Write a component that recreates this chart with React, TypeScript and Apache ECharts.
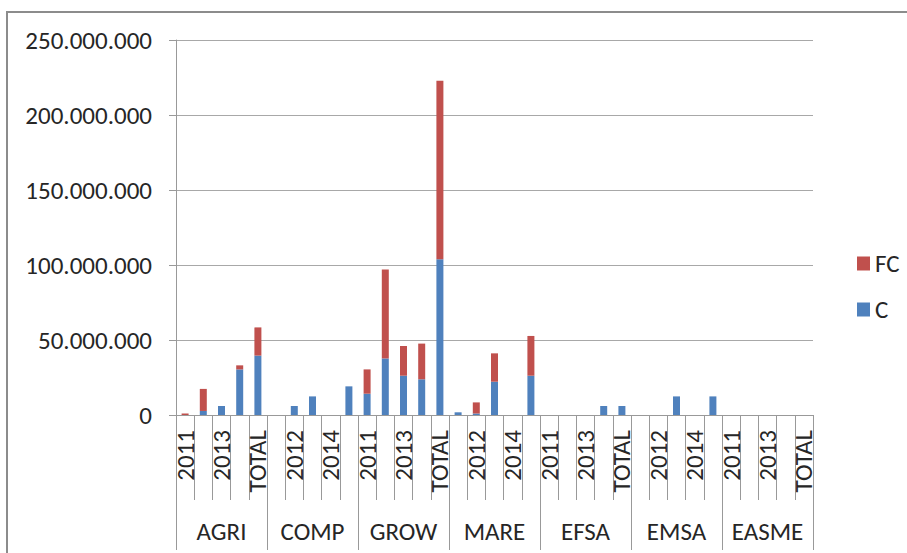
import React, { useEffect, useRef } from "react";
import * as echarts from "echarts";

const groups = ["AGRI", "COMP", "GROW", "MARE", "EFSA", "EMSA", "EASME"];
const years = ["2011", "2012", "2013", "2014", "TOTAL"];

// values in millions, per group: 2011, 2012, 2013, 2014, TOTAL
const cValues = [
  0, 2.7, 6, 30.4, 39.6,
  0, 6, 12.4, 0, 19.1,
  14.2, 37.7, 26.2, 23.8, 103.8,
  1.8, 1, 22.2, 0, 26.2,
  0, 0, 0, 6, 6,
  0, 0, 12.4, 0, 12.4,
  0, 0, 0, 0, 0,
];
const fcValues = [
  1, 14.7, 0, 2.7, 18.8,
  0, 0, 0, 0, 0,
  16.2, 59.3, 19.8, 23.8, 119.1,
  0, 7.4, 18.9, 0, 26.5,
  0, 0, 0, 0, 0,
  0, 0, 0, 0, 0,
  0, 0, 0, 0, 0,
];
const yTicks = [0, 50000000, 100000000, 150000000, 200000000, 250000000];

const FONT = "Carlito, Lato, sans-serif";
const TXT = "#262626";
const FS = 25;

function fmt(v: number): string {
  return String(Math.round(v)).replace(/\B(?=(\d{3})+(?!\d))/g, ".");
}

export default function App() {
  const ref = useRef<HTMLDivElement>(null);
  useEffect(() => {
    if (!ref.current) return;
    const chart = echarts.init(ref.current, undefined, { renderer: "svg" });
    const cats: string[] = [];
    groups.forEach((g) => years.forEach((y) => cats.push(g + "|" + y)));
    chart.setOption({
      animation: false,
      textStyle: { fontFamily: FONT },
      graphic: [
        {
          type: "rect",
          shape: { x: 7, y: 12, width: 1000, height: 600 },
          style: { fill: "none", stroke: "#8c8c8c", lineWidth: 2 },
          silent: true,
        },
      ],
      grid: { left: 176, right: 94, top: 40, bottom: 138, containLabel: false },
      legend: {
        data: ["FC", "C"],
        orient: "vertical",
        left: 852,
        top: 246,
        itemWidth: 13,
        itemHeight: 14,
        itemGap: 21,
        icon: "rect",
        textStyle: { fontSize: FS, color: TXT, fontFamily: FONT, lineHeight: 25 },
      },
      xAxis: [
        {
          type: "category",
          data: cats,
          position: "bottom",
          axisLine: { show: true, lineStyle: { color: "#999", width: 1 } },
          axisTick: {
            show: true,
            interval: 0,
            length: 85,
            alignWithLabel: false,
            lineStyle: { color: "#999" },
          },
          axisLabel: {
            interval: 1,
            rotate: 90,
            margin: 15,
            fontSize: FS,
            color: TXT,
            fontFamily: FONT,
            formatter: (v: string) => v.split("|")[1],
          },
          splitLine: { show: false },
        },
        {
          type: "category",
          data: groups,
          position: "bottom",
          axisLine: { show: false },
          axisTick: {
            show: true,
            interval: 0,
            length: 135,
            alignWithLabel: false,
            lineStyle: { color: "#999" },
          },
          axisLabel: {
            interval: 0,
            margin: 104,
            fontSize: FS,
            color: TXT,
            fontFamily: FONT,
          },
          splitLine: { show: false },
        },
      ],
      yAxis: {
        type: "value",
        min: 0,
        max: yTicks[yTicks.length - 1],
        interval: yTicks[1] - yTicks[0],
        axisLine: { show: true, lineStyle: { color: "#999" } },
        axisTick: { show: true, length: 7, inside: false, lineStyle: { color: "#999" } },
        axisLabel: {
          margin: 24,
          fontSize: FS,
          color: TXT,
          fontFamily: FONT,
          formatter: (v: number) => fmt(v),
        },
        splitLine: { show: true, lineStyle: { color: "#a8a8a8", width: 1 } },
      },
      series: [
        {
          name: "C",
          type: "bar",
          stack: "total",
          xAxisIndex: 0,
          barWidth: 7,
          itemStyle: { color: "#4F81BD" },
          data: cValues.map((v) => v * 1e6),
        },
        {
          name: "FC",
          type: "bar",
          stack: "total",
          xAxisIndex: 0,
          barWidth: 7,
          itemStyle: { color: "#C0504D" },
          data: fcValues.map((v) => v * 1e6),
        },
      ],
    });
    return () => chart.dispose();
  }, []);
  return (
    <div
      ref={ref}
      style={{ position: "absolute", left: 0, top: 0, width: 907, height: 553, background: "#fff" }}
    />
  );
}
